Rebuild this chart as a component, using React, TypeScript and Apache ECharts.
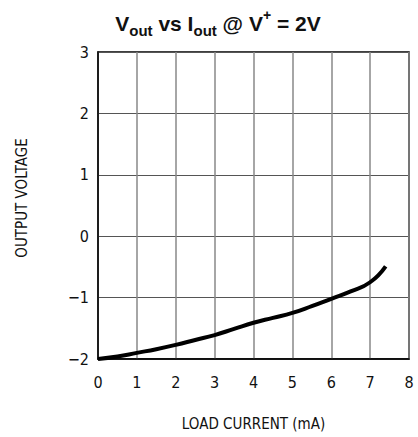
import React, { useEffect, useRef } from "react";
import * as echarts from "echarts";

const currentMA = [0, 0.5, 1, 1.5, 2, 2.5, 3, 3.5, 4, 4.5, 5, 5.5, 6, 6.5, 7, 7.4];
const voltage = [-2.0, -1.96, -1.9, -1.84, -1.77, -1.69, -1.61, -1.51, -1.41, -1.33, -1.25, -1.14, -1.02, -0.9, -0.75, -0.49];
const xTicks = { min: 0, max: 8, interval: 1 };
const yTicks = { min: -2, max: 3, interval: 1 };

export default function App() {
  const ref = useRef<HTMLDivElement>(null);
  useEffect(() => {
    if (!ref.current) return;
    const chart = echarts.init(ref.current, null, { renderer: "svg" });
    const labelFont = "'DejaVu Sans Condensed', 'Liberation Sans', sans-serif";
    const titleFont = "'Liberation Sans', Arial, sans-serif";
    chart.setOption({
      animation: false,
      backgroundColor: "#fff",
      title: {
        text: "{b|V}{s|out}{b| vs I}{s|out}{b| @ V}{p|+}{b| = 2V}",
        left: 213,
        textAlign: "center",
        top: 3,
        textStyle: {
          rich: {
            b: { fontSize: 21, fontWeight: "bold", fontFamily: titleFont, color: "#111", lineHeight: 30, verticalAlign: "middle" },
            s: { fontSize: 15, fontWeight: "bold", fontFamily: titleFont, color: "#111", lineHeight: 30, verticalAlign: "bottom" },
            p: { fontSize: 14, fontWeight: "bold", fontFamily: titleFont, color: "#111", lineHeight: 30, verticalAlign: "top" },
          },
        },
      },
      graphic: [
        {
          type: "text",
          x: 22,
          y: 198,
          rotation: Math.PI / 2,
          style: {
            text: "OUTPUT VOLTAGE",
            fontFamily: labelFont,
            fontSize: 15,
            fill: "#111",
            textAlign: "center",
            textVerticalAlign: "middle",
          },
        },
      ],
      grid: {
        left: 98,
        right: 9,
        top: 52,
        bottom: 78,
        show: true,
        borderColor: "#000",
        borderWidth: 1.5,
        backgroundColor: "transparent",
      },
      xAxis: {
        type: "value",
        min: xTicks.min,
        max: xTicks.max,
        interval: xTicks.interval,
        name: "LOAD CURRENT (mA)",
        nameLocation: "middle",
        nameGap: 57,
        nameTextStyle: { fontFamily: labelFont, fontSize: 15, color: "#111" },
        axisLine: { show: true, onZero: false, lineStyle: { color: "#000", width: 1.5 } },
        axisTick: { show: false },
        axisLabel: { fontFamily: labelFont, fontSize: 16, color: "#111", margin: 15 },
        splitLine: { show: true, lineStyle: { color: "#888", width: 1.5 } },
      },
      yAxis: {
        type: "value",
        min: yTicks.min,
        max: yTicks.max,
        interval: yTicks.interval,
        axisLine: { show: true, onZero: false, lineStyle: { color: "#000", width: 1.5 } },
        axisTick: { show: false },
        axisLabel: {
          fontFamily: labelFont,
          fontSize: 16,
          color: "#111",
          margin: 9,
          formatter: (v: number) => String(v).replace("-", "\u2212"),
        },
        splitLine: { show: true, lineStyle: { color: "#555", width: 1 } },
      },
      series: [
        {
          type: "line",
          data: currentMA.map((x, i) => [x, voltage[i]]),
          smooth: true,
          showSymbol: false,
          lineStyle: { color: "#000", width: 4 },
        },
      ],
    });
    return () => chart.dispose();
  }, []);
  return <div ref={ref} style={{ width: 418, height: 437, position: "absolute", left: 0, top: 0 }} />;
}
